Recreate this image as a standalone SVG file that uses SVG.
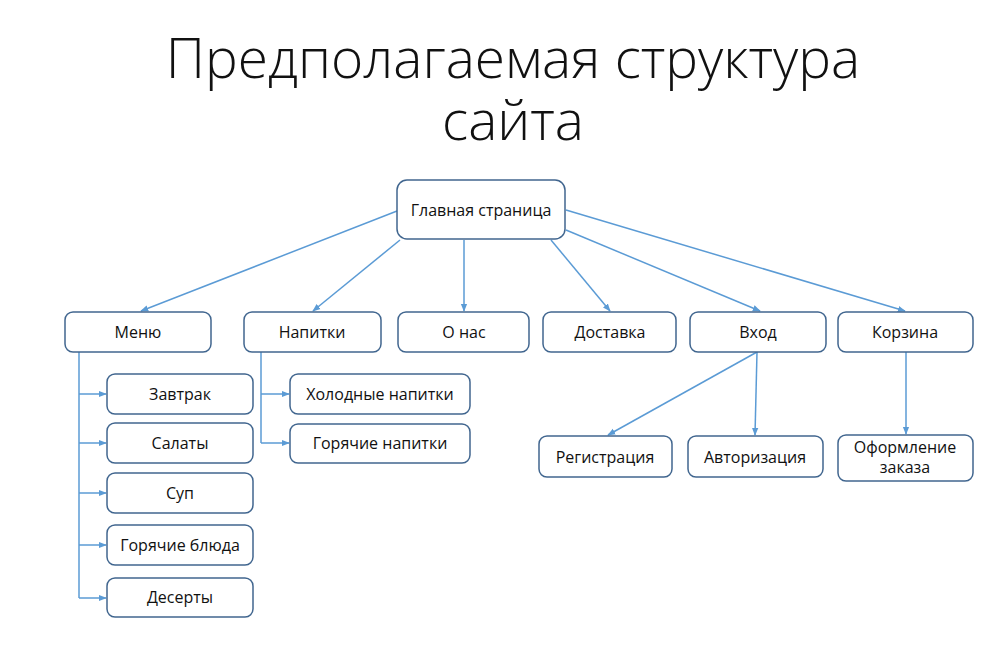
<svg xmlns="http://www.w3.org/2000/svg" width="1000" height="667" viewBox="0 0 1000 667">
<defs>
<marker id="ah" viewBox="0 0 10 10" refX="9" refY="5" markerWidth="8" markerHeight="8" orient="auto" markerUnits="userSpaceOnUse">
<path d="M0,1 L10,5 L0,9 z" fill="#5B9BD5"/>
</marker>
<style>
.box{fill:#ffffff;stroke:#41668f;stroke-width:1.5}
.t{font-family:"Open Sans","Liberation Sans",sans-serif;font-size:16px;fill:#111;text-anchor:middle}
.title{font-family:"Open Sans","Liberation Sans",sans-serif;font-weight:300;font-size:55px;fill:#111;text-anchor:middle}
.c{stroke:#5B9BD5;stroke-width:1.5;fill:none}
.a{marker-end:url(#ah)}
</style>
</defs>
<rect width="1000" height="667" fill="#ffffff"/>
<text class="title" x="513" y="78">Предполагаемая структура</text>
<text class="title" x="513" y="140">сайта</text>
<g id="connectors">
<line class="c a" x1="397" y1="211" x2="141" y2="311"/>
<line class="c a" x1="400" y1="240" x2="313" y2="311"/>
<line class="c a" x1="464" y1="240" x2="464" y2="311"/>
<line class="c a" x1="551" y1="240" x2="610" y2="311"/>
<line class="c a" x1="566" y1="230" x2="760" y2="311"/>
<line class="c a" x1="566" y1="210" x2="905" y2="311"/>
<polyline class="c" points="79,352 79,598"/>
<line class="c a" x1="79" y1="394" x2="106" y2="394"/>
<line class="c a" x1="79" y1="443" x2="106" y2="443"/>
<line class="c a" x1="79" y1="493" x2="106" y2="493"/>
<line class="c a" x1="79" y1="545" x2="106" y2="545"/>
<line class="c a" x1="79" y1="598" x2="106" y2="598"/>
<polyline class="c" points="261,352 261,443"/>
<line class="c a" x1="261" y1="394" x2="289" y2="394"/>
<line class="c a" x1="261" y1="443" x2="289" y2="443"/>
<line class="c a" x1="757" y1="352" x2="608" y2="435"/>
<line class="c a" x1="757" y1="352" x2="755" y2="435"/>
<line class="c a" x1="906" y1="352" x2="906" y2="434"/>
</g>
<g id="main"><rect class="box" x="397" y="180" width="168" height="59" rx="10"/><text class="t" x="481" y="216">Главная страница</text></g>
<g id="menu"><rect class="box" x="65" y="312" width="146" height="40" rx="8"/><text class="t" x="138" y="338">Меню</text></g>
<g id="drinks"><rect class="box" x="244" y="312" width="137" height="40" rx="8"/><text class="t" x="312" y="338">Напитки</text></g>
<g id="about"><rect class="box" x="398" y="312" width="131" height="40" rx="8"/><text class="t" x="464" y="338">О нас</text></g>
<g id="delivery"><rect class="box" x="543" y="312" width="133" height="40" rx="8"/><text class="t" x="610" y="338">Доставка</text></g>
<g id="login"><rect class="box" x="690" y="312" width="136" height="40" rx="8"/><text class="t" x="758" y="338">Вход</text></g>
<g id="cart"><rect class="box" x="838" y="312" width="135" height="40" rx="8"/><text class="t" x="905" y="338">Корзина</text></g>
<g id="breakfast"><rect class="box" x="107" y="374" width="146" height="40" rx="8"/><text class="t" x="180" y="400">Завтрак</text></g>
<g id="salads"><rect class="box" x="107" y="423" width="146" height="40" rx="8"/><text class="t" x="180" y="449">Салаты</text></g>
<g id="soup"><rect class="box" x="107" y="473" width="146" height="40" rx="8"/><text class="t" x="180" y="499">Суп</text></g>
<g id="hot-dishes"><rect class="box" x="107" y="525" width="146" height="40" rx="8"/><text class="t" x="180" y="551">Горячие блюда</text></g>
<g id="desserts"><rect class="box" x="107" y="578" width="146" height="39" rx="8"/><text class="t" x="180" y="603">Десерты</text></g>
<g id="cold-drinks"><rect class="box" x="290" y="374" width="180" height="40" rx="8"/><text class="t" x="380" y="400">Холодные напитки</text></g>
<g id="hot-drinks"><rect class="box" x="290" y="424" width="180" height="39" rx="8"/><text class="t" x="380" y="449">Горячие напитки</text></g>
<g id="registration"><rect class="box" x="539" y="436" width="133" height="41" rx="8"/><text class="t" x="605" y="463">Регистрация</text></g>
<g id="authorization"><rect class="box" x="688" y="436" width="135" height="41" rx="8"/><text class="t" x="755" y="463">Авторизация</text></g>
<g id="checkout"><rect class="box" x="838" y="435" width="135" height="46" rx="8"/><text class="t" x="905" y="453">Оформление</text><text class="t" x="905" y="473">заказа</text></g>
</svg>
